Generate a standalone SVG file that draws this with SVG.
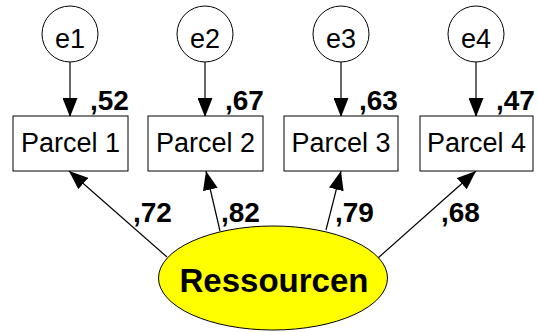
<svg xmlns="http://www.w3.org/2000/svg" width="538" height="332" viewBox="0 0 538 332">
  <style>
    .err { fill: #ffffff; stroke: #000000; stroke-width: 1; }
    .box { fill: #ffffff; stroke: #000000; stroke-width: 1; }
    .lat { fill: #ffff00; stroke: #000000; stroke-width: 1; }
    .lbl { font-family: "Liberation Sans", Arial, sans-serif; font-size: 27px; fill: #000000; text-anchor: middle; }
    .num { font-family: "Liberation Sans", Arial, sans-serif; font-size: 28px; font-weight: bold; fill: #000000; }
    .big { font-family: "Liberation Sans", Arial, sans-serif; font-size: 33px; font-weight: bold; fill: #000000; text-anchor: middle; }
    .edge { stroke: #000000; stroke-width: 1.2; fill: none; marker-end: url(#head); }
  </style>
  <defs>
    <marker id="head" markerUnits="userSpaceOnUse" markerWidth="19" markerHeight="15" refX="19" refY="7.5" orient="auto">
      <path d="M0,0 L19,7.5 L0,15 Z" fill="#000000"/>
    </marker>
  </defs>

  <rect width="538" height="332" fill="#ffffff"/>

  <!-- connectors -->
  <g id="connectors">
    <line class="edge" x1="70" y1="62" x2="70" y2="117"/>
    <line class="edge" x1="205" y1="62" x2="205" y2="117"/>
    <line class="edge" x1="341" y1="62" x2="341" y2="117"/>
    <line class="edge" x1="476" y1="62" x2="476" y2="117"/>
    <line class="edge" x1="167" y1="257" x2="69" y2="171"/>
    <line class="edge" x1="220" y1="231" x2="206" y2="171"/>
    <line class="edge" x1="326" y1="230" x2="341" y2="171"/>
    <line class="edge" x1="378" y1="258" x2="476" y2="171"/>
  </g>

  <!-- error terms -->
  <g id="e1"><circle class="err" cx="70" cy="34" r="28"/><text class="lbl" x="70" y="48">e1</text></g>
  <g id="e2"><circle class="err" cx="205" cy="34" r="28"/><text class="lbl" x="205" y="48">e2</text></g>
  <g id="e3"><circle class="err" cx="341" cy="34" r="28"/><text class="lbl" x="341" y="48">e3</text></g>
  <g id="e4"><circle class="err" cx="476" cy="34" r="28"/><text class="lbl" x="476" y="48">e4</text></g>

  <!-- indicators -->
  <g id="parcel1"><rect class="box" x="13" y="116" width="115" height="55"/><text class="lbl" x="70.5" y="152">Parcel 1</text></g>
  <g id="parcel2"><rect class="box" x="148" y="116" width="115" height="55"/><text class="lbl" x="205.5" y="152">Parcel 2</text></g>
  <g id="parcel3"><rect class="box" x="284" y="116" width="114" height="55"/><text class="lbl" x="341" y="152">Parcel 3</text></g>
  <g id="parcel4"><rect class="box" x="420" y="116" width="113" height="55"/><text class="lbl" x="476.5" y="152">Parcel 4</text></g>

  <!-- latent factor -->
  <g id="ressourcen">
    <ellipse class="lat" cx="273" cy="278" rx="114.5" ry="52"/>
    <text class="big" x="274" y="292">Ressourcen</text>
  </g>

  <!-- estimates -->
  <g id="estimates">
    <text class="num" x="90" y="110">,52</text>
    <text class="num" x="225" y="110">,67</text>
    <text class="num" x="359" y="110">,63</text>
    <text class="num" x="496" y="110">,47</text>
    <text class="num" x="133" y="222">,72</text>
    <text class="num" x="221" y="222">,82</text>
    <text class="num" x="335" y="222">,79</text>
    <text class="num" x="441" y="222">,68</text>
  </g>
</svg>
